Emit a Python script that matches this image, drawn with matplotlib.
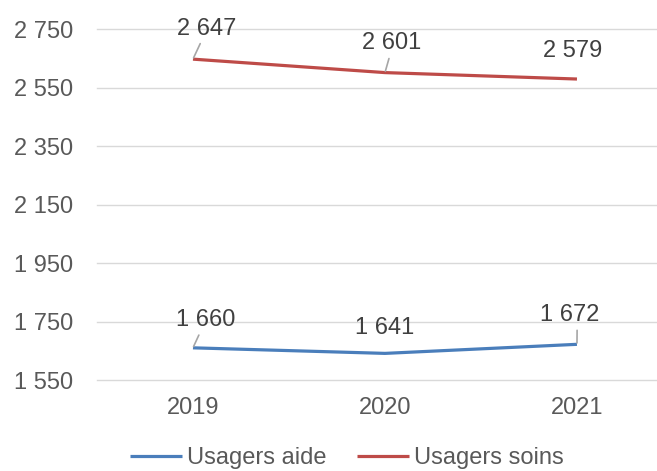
import matplotlib
matplotlib.use("Agg")
import matplotlib.pyplot as plt
from matplotlib.ticker import FuncFormatter

# data
years = ["2019", "2020", "2021"]
usagers_aide = [1660, 1641, 1672]
usagers_soins = [2647, 2601, 2579]
y_ticks = [1550, 1750, 1950, 2150, 2350, 2550, 2750]

plt.rcParams["font.family"] = ["Liberation Sans", "DejaVu Sans"]

def fmt(v, pos=None):
    return f"{int(v):,}".replace(",", " ")

fig = plt.figure(figsize=(6.57, 4.71), dpi=100)
ax = fig.add_axes([0.1476, 0.1932, 0.8767, 0.7452])

x = range(len(years))
ax.plot(x, usagers_aide, color="#4a7ebb", lw=2.3, label="Usagers aide", solid_capstyle="butt")
ax.plot(x, usagers_soins, color="#be4b48", lw=2.3, label="Usagers soins", solid_capstyle="butt")

ax.set_xlim(-0.5, 2.5)
ax.set_ylim(1550, 2750)
ax.set_yticks(y_ticks)
ax.yaxis.set_major_formatter(FuncFormatter(fmt))
ax.set_xticks(list(x))
ax.set_xticklabels(years)
ax.grid(axis="y", color="#d9d9d9", lw=1)
for gl in ax.get_ygridlines():
    gl.set_clip_on(False)
ax.set_axisbelow(True)
for s in ax.spines.values():
    s.set_visible(False)
ax.tick_params(axis="both", length=0, labelsize=17, labelcolor="#595959")
ax.tick_params(axis="y", pad=17)
ax.tick_params(axis="x", pad=12.5)

# label offsets in points (dx, dy) and leader-line anchor on the label (None = no leader)
offs_aide = [((9, 20), 0.42), ((0, 18), None), ((-5, 21), 0.62)]
offs_soins = [((10, 22), 0.42), ((5, 21), 0.47), ((-3, 20), None)]

for series, offs in ((usagers_aide, offs_aide), (usagers_soins, offs_soins)):
    for i, v in enumerate(series):
        (dx, dy), rel = offs[i]
        ap = None
        if rel is not None:
            ap = dict(arrowstyle="-", color="#a6a6a6", lw=1.2, shrinkA=1, shrinkB=1,
                      relpos=(rel, 0.0))
        ax.annotate(fmt(v), (i, v), xytext=(dx, dy), textcoords="offset points",
                    ha="center", va="center", fontsize=17, color="#404040",
                    arrowprops=ap)

ax.legend(loc="center", bbox_to_anchor=(0.528, 0.028), bbox_transform=fig.transFigure,
          ncol=2, frameon=False, fontsize=17, labelcolor="#595959",
          handlelength=2.2, handletextpad=0.2, columnspacing=1.3)

fig.savefig("out.png", dpi=100)
